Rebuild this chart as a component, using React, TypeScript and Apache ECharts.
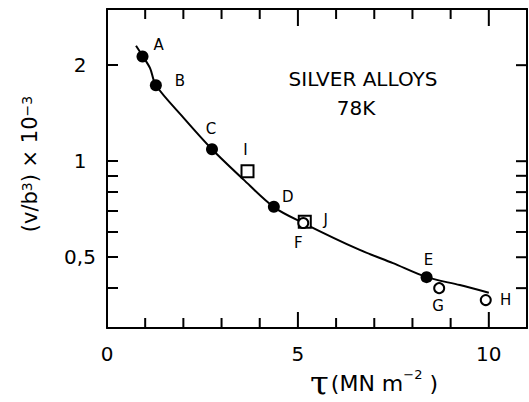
import React, { useEffect, useRef } from "react";
import * as echarts from "echarts";

// ---- data ----
const FILLED_NAMES = ["A", "B", "C", "D", "E"];
const FILLED_X = [0.93, 1.28, 2.75, 4.37, 8.37];
const FILLED_Y = [2.13, 1.73, 1.09, 0.72, 0.433];

const OPEN_NAMES = ["F", "G", "H"];
const OPEN_X = [5.14, 8.7, 9.92];
const OPEN_Y = [0.64, 0.4, 0.367];

const SQUARE_NAMES = ["I", "J"];
const SQUARE_X = [3.68, 5.18];
const SQUARE_Y = [0.93, 0.646];

const CURVE_X = [0.76, 0.93, 1.13, 1.28, 2.0, 2.75, 3.57, 4.37, 5.14, 6.62, 7.49, 8.37, 9.24, 10.0];
const CURVE_Y = [2.3, 2.14, 1.955, 1.73, 1.37, 1.09, 0.877, 0.718, 0.64, 0.527, 0.479, 0.433, 0.409, 0.387];

const X_LABELS = [0, 5, 10];
const X_TICKS = [1, 2, 3, 4, 5, 6, 7, 8, 9, 10];
const Y_LABELS = [0.5, 1, 2];
const Y_TICKS = [0.4, 0.5, 0.6, 0.7, 0.8, 0.9, 1, 2];
const Y_MIN = 0.3;
const Y_MAX = 3;
const X_MIN = 0;
const X_MAX = 11;

const TITLE_LINE1 = "SILVER ALLOYS";
const TITLE_LINE2 = "78K";

// label placement (style only)
const LABEL_OFFSET: Record<string, [number, number]> = {
  A: [16, -11],
  B: [24, -4],
  C: [-1, -20],
  D: [14, -10],
  E: [2, -17],
  F: [-5, 20],
  G: [-1, 18],
  H: [20, 0],
  I: [-2, -21],
  J: [21, -2],
};

const FONT = "DejaVu Sans";

function pts(names: string[], xs: number[], ys: number[]) {
  return names.map((n, i) => ({
    value: [xs[i], ys[i]],
    name: n,
    label: {
      show: true,
      position: "inside",
      offset: LABEL_OFFSET[n],
      formatter: n,
      color: "#000",
      fontSize: 15,
      fontFamily: FONT,
      align: "center",
      verticalAlign: "middle",
    },
  }));
}

function tick(length: number, values: number[]) {
  return { show: true, inside: true, length, customValues: values, lineStyle: { color: "#000", width: 2 } };
}
function lineOn() {
  return { show: true, onZero: false, lineStyle: { color: "#000", width: 2 } };
}
function lineOff() {
  return { show: false, onZero: false };
}

// tick marks drawn through the axes' own scales (api.coord)
function tickSeries(data: number[][], kind: "bottom" | "top" | "right") {
  return {
    type: "custom",
    xAxisIndex: 0,
    yAxisIndex: 0,
    silent: true,
    z: 1,
    data,
    renderItem: (_params: any, api: any) => {
      const x = api.value(0);
      const y = api.value(1);
      const p = api.coord([x, y]);
      const major = kind !== "right" && Math.abs(x % 5) < 1e-9;
      const len = kind === "right" ? 11 : major ? (kind === "top" ? 17 : 16) : 10;
      let shape;
      if (kind === "bottom") shape = { x1: p[0], y1: p[1], x2: p[0], y2: p[1] - len };
      else if (kind === "top") shape = { x1: p[0], y1: p[1], x2: p[0], y2: p[1] + len };
      else shape = { x1: p[0], y1: p[1], x2: p[0] - len, y2: p[1] };
      return { type: "line", shape, style: { stroke: "#000", lineWidth: 2 } };
    },
  };
}

export default function App() {
  const ref = useRef<HTMLDivElement>(null);
  useEffect(() => {
    if (!ref.current) return;
    const chart = echarts.init(ref.current, null, { renderer: "svg" });
    const LMIN = Math.log10(Y_MIN);
    const LMAX = Math.log10(Y_MAX);
    const yTickVals = Y_TICKS.map((v) => Math.log10(v));
    const fmtY = (v: number) => {
      const r = Math.round(Math.pow(10, v) * 10) / 10;
      return String(r).replace(".", ",");
    };
    const xBase = { type: "value", min: X_MIN, max: X_MAX, splitLine: { show: false } };
    const option: any = {
      animation: false,
      backgroundColor: "#fff",
      grid: { left: 107, right: 2, top: 9, bottom: 74, containLabel: false },
      xAxis: [
        {
          ...xBase, position: "bottom", interval: 1,
          axisLine: lineOn(), axisTick: { show: false },
          axisLabel: {
            customValues: X_LABELS, margin: 16, color: "#000", fontSize: 20, fontFamily: FONT,
            formatter: (v: number) => String(v),
          },
        },
        {
          ...xBase, position: "top", interval: 1,
          axisLine: lineOn(), axisTick: { show: false }, axisLabel: { show: false },
        },
      ],
      yAxis: [
        {
          type: "log", logBase: 10, position: "left", min: Y_MIN, max: Y_MAX,
          axisLine: lineOn(), axisTick: { show: false }, splitLine: { show: false }, axisLabel: { show: false },
        },
        {
          type: "value", position: "left", min: LMIN, max: LMAX,
          axisLine: lineOff(), axisTick: tick(11, yTickVals), splitLine: { show: false },
          axisLabel: {
            customValues: Y_LABELS.map((v) => Math.log10(v)), formatter: fmtY,
            align: "center", margin: 27, color: "#000", fontSize: 20, fontFamily: FONT,
          },
        },
        {
          type: "value", position: "right", min: LMIN, max: LMAX,
          axisLine: lineOn(), axisTick: { show: false }, splitLine: { show: false }, axisLabel: { show: false },
        },
      ],
      graphic: [
        {
          type: "text", x: 363, y: 79,
          style: { text: TITLE_LINE1, fill: "#000", font: `20px "${FONT}"`, textAlign: "center", textVerticalAlign: "middle" },
        },
        {
          type: "text", x: 356, y: 108,
          style: { text: TITLE_LINE2, fill: "#000", font: `20px "${FONT}"`, textAlign: "center", textVerticalAlign: "middle" },
        },
        {
          type: "text", x: 374, y: 383,
          style: {
            text: "{t|τ}{n|(MN m}{s|−2}{n| )}",
            textAlign: "center", textVerticalAlign: "middle",
            rich: {
              t: { fontSize: 34, fontFamily: "DejaVu Serif", fill: "#000", color: "#000", padding: [0, 2, 0, 0] },
              n: { fontSize: 22, fontFamily: FONT, color: "#000", fill: "#000" },
              s: { fontSize: 13, fontFamily: FONT, color: "#000", fill: "#000", verticalAlign: "top", padding: [2, 0, 0, 0] },
            },
          },
        },
        {
          type: "text", x: 30, y: 164, rotation: Math.PI / 2,
          style: {
            text: "{n|(v/b}{s|3}{n|) × 10}{s|−3}",
            textAlign: "center", textVerticalAlign: "middle",
            rich: {
              n: { fontSize: 21, fontFamily: FONT, color: "#000", fill: "#000" },
              s: { fontSize: 14, fontFamily: FONT, color: "#000", fill: "#000", verticalAlign: "top" },
            },
          },
        },
      ],
      series: [
        tickSeries(X_TICKS.map((v) => [v, Y_MIN]), "bottom"),
        tickSeries(X_TICKS.map((v) => [v, Y_MAX]), "top"),
        tickSeries(Y_TICKS.map((v) => [X_MAX, v]), "right"),
        {
          type: "line", xAxisIndex: 0, yAxisIndex: 0, smooth: 0.3,
          showSymbol: false, symbol: "none", lineStyle: { color: "#000", width: 2 },
          data: CURVE_X.map((x, i) => [x, CURVE_Y[i]]), z: 2,
        },
        {
          type: "scatter", xAxisIndex: 0, yAxisIndex: 0, symbol: "rect", symbolSize: 12,
          itemStyle: { color: "#fff", borderColor: "#000", borderWidth: 2, opacity: 1 },
          data: pts(SQUARE_NAMES, SQUARE_X, SQUARE_Y), z: 3,
        },
        {
          type: "scatter", xAxisIndex: 0, yAxisIndex: 0, symbol: "circle", symbolSize: 12,
          itemStyle: { color: "#000", opacity: 1 },
          data: pts(FILLED_NAMES, FILLED_X, FILLED_Y), z: 4,
        },
        {
          type: "scatter", xAxisIndex: 0, yAxisIndex: 0, symbol: "circle", symbolSize: 10,
          itemStyle: { color: "#fff", borderColor: "#000", borderWidth: 2, opacity: 1 },
          data: pts(OPEN_NAMES, OPEN_X, OPEN_Y), z: 5,
        },
      ],
    };
    chart.setOption(option);
    return () => chart.dispose();
  }, []);
  return (
    <div
      ref={ref}
      style={{ position: "fixed", left: 0, top: 0, width: 529, height: 402, background: "#fff" }}
    />
  );
}
